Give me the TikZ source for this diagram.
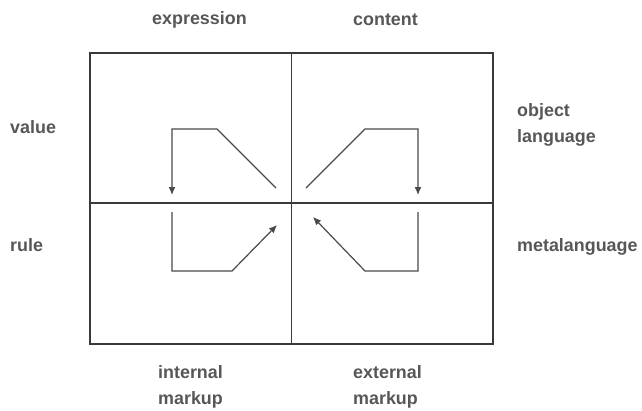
\documentclass[tikz,border=0pt]{standalone}
\usepackage{fontspec}
\setmainfont{Liberation Sans}
\usetikzlibrary{arrows.meta}
\definecolor{ink}{HTML}{3A3A3A}
\definecolor{arrink}{HTML}{4A4A4A}
\definecolor{txt}{HTML}{575757}
\begin{document}
\begin{tikzpicture}[x=1pt,y=-1pt,
  lbl/.style={anchor=west,text=txt,font=\bfseries\fontsize{17.9}{26}\selectfont,align=left,inner sep=0pt},
  ln/.style={draw=ink,line width=1.3pt},
  arr/.style={draw=arrink,line width=1.2pt,-{Latex[length=8pt,width=7pt]}}]
\useasboundingbox (0,0) rectangle (642,410);
% grid
\coordinate (tl) at (90,53);
\coordinate (br) at (493,344);
\coordinate (mt) at (291.5,53);
\coordinate (mb) at (291.5,344);
\coordinate (ml) at (90,203);
\coordinate (mr) at (493,203);
\draw[ln] (tl) rectangle (br);
\draw[ln] (mt) -- (mb);
\draw[ln] (ml) -- (mr);
% arrows
\coordinate (a1) at (276,188);
\coordinate (a2) at (217,129);
\coordinate (a3) at (172,129);
\coordinate (a4) at (172,195);
\draw[arr] (a1) -- (a2) -- (a3) -- (a4);
\coordinate (b1) at (172,212);
\coordinate (b2) at (172,271);
\coordinate (b3) at (232,271);
\coordinate (b4) at (277,225);
\draw[arr] (b1) -- (b2) -- (b3) -- (b4);
\coordinate (c1) at (306,188);
\coordinate (c2) at (365,129);
\coordinate (c3) at (418,129);
\coordinate (c4) at (418,195);
\draw[arr] (c1) -- (c2) -- (c3) -- (c4);
\coordinate (d1) at (418,212);
\coordinate (d2) at (418,271);
\coordinate (d3) at (365,271);
\coordinate (d4) at (313,217);
\draw[arr] (d1) -- (d2) -- (d3) -- (d4);
% labels
\node[lbl] (expr) at (152,20) {expression};
\node[lbl] (cont) at (353,20) {content};
\node[lbl] (val) at (10,127) {value};
\node[lbl] (rule) at (10,245) {rule};
\node[lbl] (obj) at (517,124.5) {object\\language};
\node[lbl] (meta) at (517,247) {metalanguage};
\node[lbl] (int) at (158,386.5) {internal\\markup};
\node[lbl] (ext) at (353,386.5) {external\\markup};
\end{tikzpicture}
\end{document}
